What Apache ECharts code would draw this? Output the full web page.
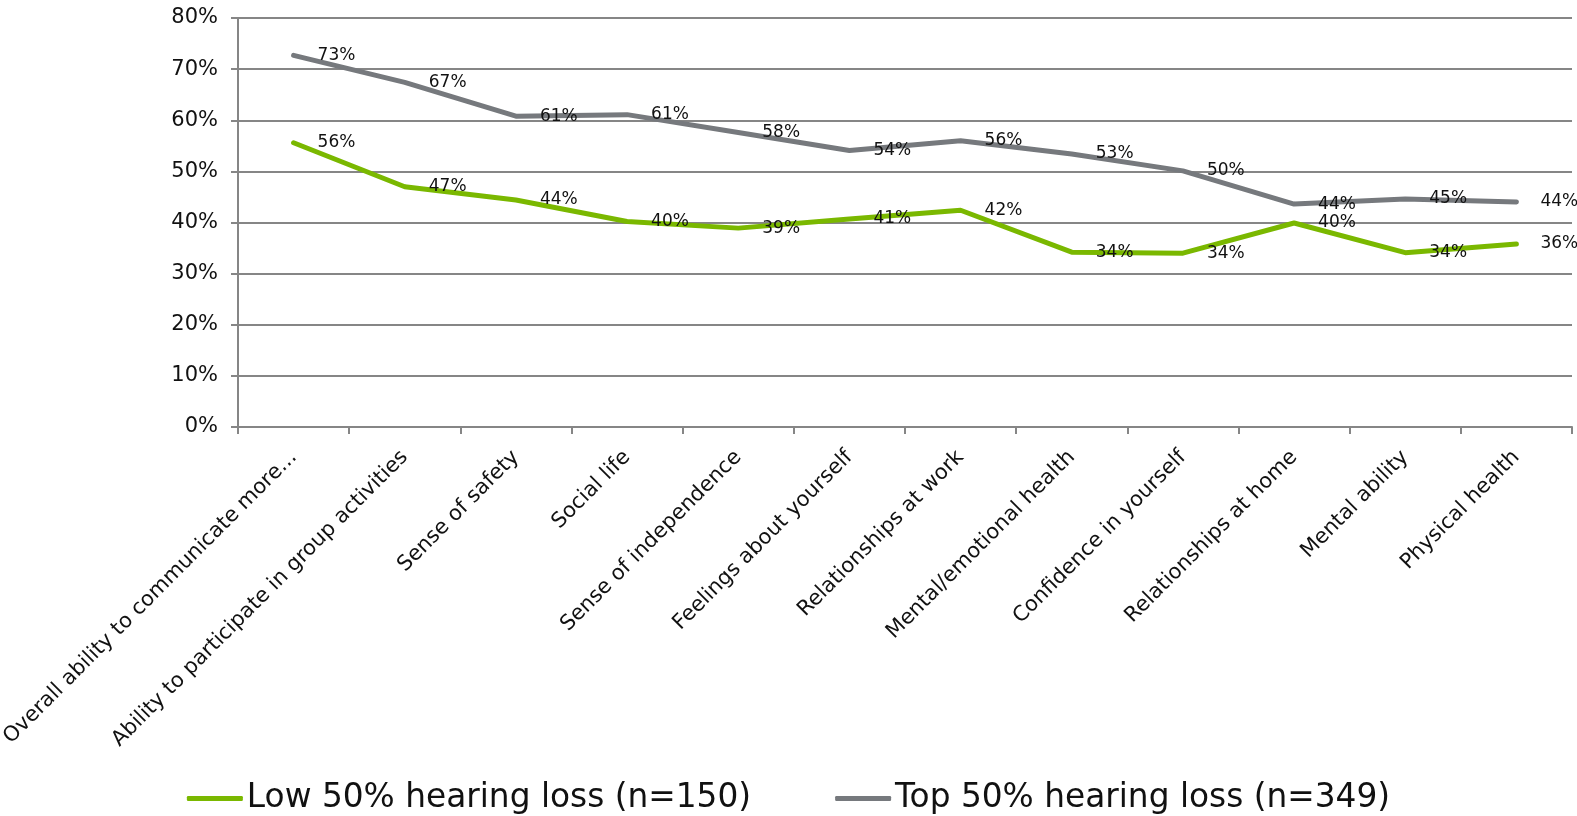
<!DOCTYPE html>
<html>
<head>
<meta charset="utf-8">
<script src="https://cdn.jsdelivr.net/npm/echarts@6/dist/echarts.min.js"></script>
<style>
html,body{margin:0;padding:0;background:#fff;}
#chart{width:1577px;height:816px;}
</style>
</head>
<body>
<div id="chart"></div>
<script>
const categories = [
  "Overall ability to communicate more...",
  "Ability to participate in group activities",
  "Sense of safety",
  "Social life",
  "Sense of independence",
  "Feelings about yourself",
  "Relationships at work",
  "Mental/emotional health",
  "Confidence in yourself",
  "Relationships at home",
  "Mental ability",
  "Physical health"
];
const lowValues = [55.6, 47.0, 44.4, 40.2, 38.9, 40.7, 42.4, 34.2, 34.0, 39.9, 34.1, 35.8];
const topValues = [72.7, 67.4, 60.8, 61.1, 57.6, 54.1, 56.0, 53.4, 50.1, 43.6, 44.6, 44.0];
const seriesNames = ["Low 50% hearing loss (n=150)", "Top 50% hearing loss (n=349)"];
const yTicks = [0, 10, 20, 30, 40, 50, 60, 70, 80];

const FONT = "DejaVu Sans";
const GREEN = '#7AB800', GRAY = '#76797D';
const chart = echarts.init(document.getElementById('chart'));
const labelCfg = {
  show: true,
  position: 'right',
  distance: 24,
  fontFamily: FONT,
  fontSize: 17,
  color: '#111',
  formatter: p => Math.round(p.value) + '%'
};
chart.setOption({
  animation: false,
  textStyle: {fontFamily: FONT},
  grid: {left: 238, right: 5, top: 18, bottom: 389, containLabel: false, outerBoundsMode: 'none'},
  legend: {
    bottom: -4,
    left: 'center',
    itemWidth: 56,
    itemHeight: 5,
    itemGap: 84,
    icon: 'roundRect',
    textStyle: {fontFamily: FONT, fontSize: 32.8, color: '#111', padding: [0, 0, 0, -1]},
    data: [
      {name: seriesNames[0], itemStyle: {color: GREEN, opacity: 1}},
      {name: seriesNames[1], itemStyle: {color: GRAY, opacity: 1}}
    ]
  },
  xAxis: {
    type: 'category',
    data: categories,
    boundaryGap: true,
    axisLine: {lineStyle: {color: '#868686', width: 2}},
    axisTick: {show: true, length: 7, lineStyle: {color: '#868686', width: 2}},
    axisLabel: {rotate: 45, interval: 0, fontFamily: FONT, fontSize: 21, color: '#111', margin: 27}
  },
  yAxis: {
    type: 'value',
    min: 0, max: 80, interval: 10,
    axisLine: {show: true, lineStyle: {color: '#868686', width: 2}},
    axisTick: {show: true, length: 7, lineStyle: {color: '#868686', width: 2}},
    splitLine: {show: true, lineStyle: {color: '#868686', width: 2}},
    axisLabel: {
      fontFamily: FONT, fontSize: 21, color: '#111', margin: 20,
      formatter: v => yTicks.includes(v) ? v + '%' : ''
    }
  },
  series: [
    {
      name: seriesNames[0], type: 'line', data: lowValues,
      showSymbol: true, symbol: 'circle', symbolSize: 0.01,
      lineStyle: {color: GREEN, width: 5, cap: 'round', join: 'round'},
      itemStyle: {color: GREEN},
      label: labelCfg
    },
    {
      name: seriesNames[1], type: 'line', data: topValues,
      showSymbol: true, symbol: 'circle', symbolSize: 0.01,
      lineStyle: {color: GRAY, width: 5, cap: 'round', join: 'round'},
      itemStyle: {color: GRAY},
      label: labelCfg
    }
  ]
});
</script>
</body>
</html>
